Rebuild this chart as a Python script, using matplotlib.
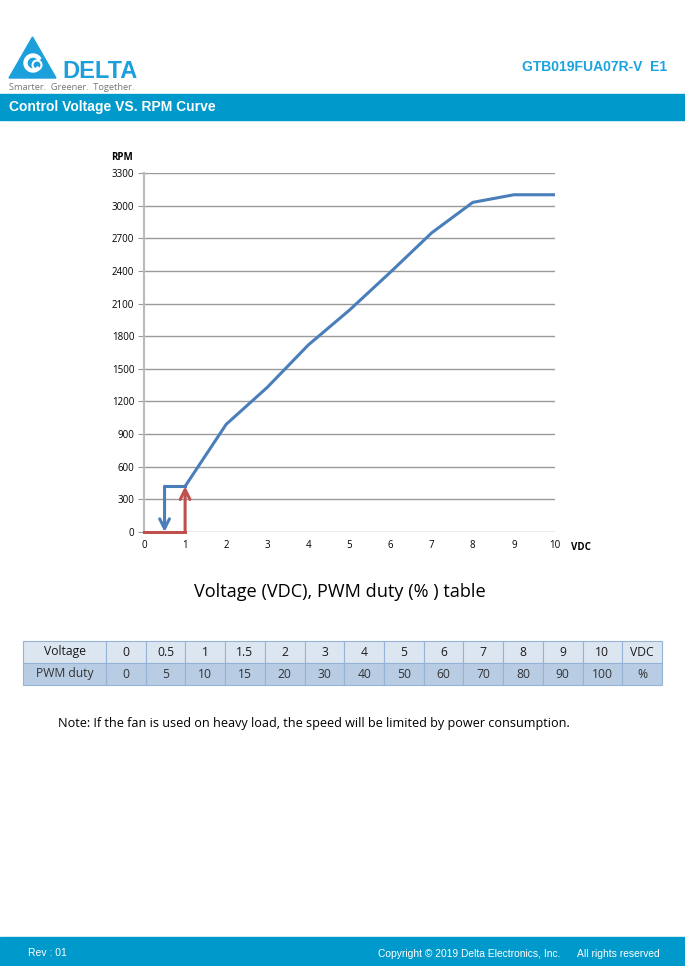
import numpy as np
import matplotlib
matplotlib.use("Agg")
from matplotlib import pyplot as plt
from matplotlib.patches import Polygon, Rectangle, Circle, Wedge

# curve data
volts = [1, 2, 3, 4, 5, 6, 7, 8, 9, 10]
rpm = [420, 990, 1330, 1720, 2040, 2390, 2750, 3030, 3100, 3100]

# start-up hysteresis marks
start_v, start_rpm = 1, 420
stop_v = 0.5

y_ticks = list(range(0, 3301, 300))
x_ticks = list(range(0, 11))

# table
row_labels = ["Voltage", "PWM duty"]
voltage_row = ["0", "0.5", "1", "1.5", "2", "3", "4", "5", "6", "7", "8", "9", "10", "VDC"]
duty_row = ["0", "5", "10", "15", "20", "30", "40", "50", "60", "70", "80", "90", "100", "%"]

BLUE = "#4A7EBB"
RED = "#C0504D"
BAR = "#0099CC"
W, H = 685, 966

fig = plt.figure(figsize=(W / 100, H / 100), dpi=100)

# page overlay in pixel coordinates
pg = fig.add_axes([0, 0, 1, 1])
pg.set_xlim(0, W)
pg.set_ylim(H, 0)
pg.axis("off")

## header ####################################################################
pg.add_patch(Polygon([[9, 78], [56, 78], [32.5, 37]], closed=True, color="#1BA0DC"))
pg.add_patch(Wedge((33, 63), 9, 40, 330, width=3, color="white"))
pg.add_patch(Circle((37, 65), 4.5, fill=False, ec="white", lw=1.5))
fig.text(62 / W, 1 - 77.5 / H, "DELTA", fontsize=17, fontweight="bold",
         color="#1BA0DC", family="Liberation Sans", ha="left", va="baseline")
fig.text(9 / W, 1 - 90.5 / H, "Smarter.  Greener.  Together.", fontsize=6.7,
         color="#777777", family="Open Sans", ha="left", va="baseline")
fig.text(667 / W, 1 - 67 / H, "GTB019FUA07R-V  E1", fontsize=10,
         fontweight="bold", color="#1AA3E0", family="Liberation Sans",
         ha="right", va="center")

pg.add_patch(Rectangle((0, 94), W, 26, color=BAR))
fig.text(9 / W, 1 - 107 / H, "Control Voltage VS. RPM Curve", fontsize=10,
         fontweight="bold", color="white", family="Liberation Sans",
         ha="left", va="center")

## chart #####################################################################
ax = fig.add_axes([144 / W, 1 - 532 / H, 411 / W, 359 / H])
ax.plot(volts, rpm, color=BLUE, lw=2.2, solid_joinstyle="miter", zorder=4)
ax.plot([start_v, stop_v], [start_rpm, start_rpm], color=BLUE, lw=2.2, zorder=4)
ax.annotate("", xy=(stop_v, 0), xytext=(stop_v, start_rpm),
            arrowprops=dict(arrowstyle="->,head_length=0.7,head_width=0.35",
                            color=BLUE, lw=2.2, shrinkA=0, shrinkB=0), zorder=4)
ax.plot([0, start_v], [0, 0], color=RED, lw=2.2, zorder=3, clip_on=False)
ax.annotate("", xy=(start_v, start_rpm), xytext=(start_v, 0),
            arrowprops=dict(arrowstyle="->,head_length=0.7,head_width=0.35",
                            color=RED, lw=2.2, shrinkA=0, shrinkB=0), zorder=3)

ax.set_xlim(0, 10)
ax.set_ylim(0, 3300)
ax.set_yticks(y_ticks)
ax.set_xticks(x_ticks)
ax.yaxis.grid(True, color="#9A9A9A", lw=1)
ax.set_axisbelow(True)
for s in ["top", "right", "bottom"]:
    ax.spines[s].set_visible(False)
ax.spines["left"].set_color("#BBBBBB")
ax.spines["left"].set_linewidth(1.5)
ax.tick_params(axis="y", length=4, color="#9A9A9A", labelsize=7, pad=3)
ax.tick_params(axis="x", length=0, labelsize=7, pad=6)
for lab in ax.get_xticklabels() + ax.get_yticklabels():
    lab.set_family("Open Sans")

fig.text(122 / W, 1 - 158 / H, "RPM", fontsize=7, fontweight="bold",
         family="Open Sans", ha="center", va="center")
fig.text(581 / W, 1 - 547 / H, "VDC", fontsize=7, fontweight="bold",
         family="Open Sans", ha="center", va="center")

fig.text(340 / W, 1 - 592 / H, "Voltage (VDC), PWM duty (% ) table",
         fontsize=13.1, family="Open Sans", ha="center", va="center")

## table #####################################################################
col_w = [83] + [39.7] * len(voltage_row)
tbl = pg.table(cellText=[[row_labels[0]] + voltage_row, [row_labels[1]] + duty_row],
               cellLoc="center", colWidths=[w / sum(col_w) for w in col_w],
               bbox=[23 / W, 1 - 685 / H, 639 / W, 44 / H])
tbl.auto_set_font_size(False)
for (r, c), cell in tbl.get_celld().items():
    cell.set_facecolor("#DCE6F1" if r == 0 else "#B8CCE4")
    cell.set_edgecolor("#95B3D7")
    cell.set_linewidth(0.8)
    t = cell.get_text()
    t.set_fontsize(8.7)
    t.set_family("Open Sans")
    t.set_color("#1A1A1A" if r == 0 else "#333333")

fig.text(58 / W, 1 - 724 / H,
         "Note: If the fan is used on heavy load, the speed will be limited by power consumption.",
         fontsize=9.1, family="Open Sans", ha="left", va="center")

## footer ####################################################################
pg.add_patch(Rectangle((0, 937), W, 29, color=BAR))
fig.text(28 / W, 1 - 953 / H, "Rev : 01", fontsize=7.5, color="white",
         family="Liberation Sans", ha="left", va="center")
fig.text(660 / W, 1 - 954 / H,
         "Copyright \u00a9 2019 Delta Electronics, Inc.      All rights reserved",
         fontsize=7.4, color="white", family="Liberation Sans", ha="right", va="center")

fig.savefig("out.png", dpi=100)
